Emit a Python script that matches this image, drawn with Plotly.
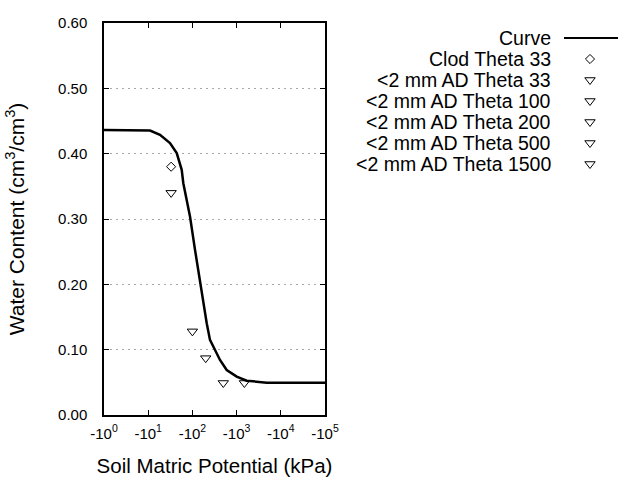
import plotly.graph_objects as go

# ---- data ----
curve_kpa = [1, 11.0, 18.5, 31.1, 44.2, 57.3, 62.3, 73.0, 88.3, 114.6, 148.6,
             210.8, 250, 324.6, 421, 597, 1005, 1693, 4800, 100000]
curve_theta = [0.4364, 0.4354, 0.4288, 0.4161, 0.4008, 0.3752, 0.3548, 0.3293,
               0.3037, 0.2527, 0.2017, 0.1404, 0.1149, 0.0995, 0.0842, 0.0689,
               0.0587, 0.0525, 0.0495, 0.0495]

clod_kpa = [33]
clod_theta = [0.38]

ad_kpa = [33, 100, 200, 500, 1500]
ad_theta = [0.34, 0.128, 0.087, 0.049, 0.049]

legend_names = ["Curve", "Clod Theta 33", "&lt;2 mm AD Theta 33",
                "&lt;2 mm AD Theta 100", "&lt;2 mm AD Theta 200",
                "&lt;2 mm AD Theta 500", "&lt;2 mm AD Theta 1500"]

x_tickvals = [1, 10, 100, 1000, 10000, 100000]
x_ticktext = ["-10<sup>0</sup>", "-10<sup>1</sup>", "-10<sup>2</sup>",
              "-10<sup>3</sup>", "-10<sup>4</sup>", "-10<sup>5</sup>"]
y_tickvals = [0.0, 0.1, 0.2, 0.3, 0.4, 0.5, 0.6]
y_ticktext = ["0.00", "0.10", "0.20", "0.30", "0.40", "0.50", "0.60"]

FONT = "Arial, Liberation Sans, sans-serif"

fig = go.Figure()

fig.add_trace(go.Scatter(x=curve_kpa, y=curve_theta, mode="lines",
                         line=dict(color="black", width=2.5),
                         showlegend=False, hoverinfo="skip"))
fig.add_trace(go.Scatter(x=clod_kpa, y=clod_theta, mode="markers",
                         marker=dict(symbol="diamond-open", size=7, color="black",
                                     line=dict(width=1, color="black")),
                         showlegend=False))
fig.add_trace(go.Scatter(x=ad_kpa, y=ad_theta, mode="markers",
                         marker=dict(symbol="triangle-down-open", size=9, color="black",
                                     line=dict(width=1, color="black")),
                         showlegend=False))

# ---- custom legend (text right-aligned, key to the right) ----
rows = list(range(len(legend_names)))
fig.add_trace(go.Scatter(x=[564, 618], y=[0, 0], mode="lines", xaxis="x2", yaxis="y2",
                         line=dict(color="black", width=2), showlegend=False, hoverinfo="skip"))
fig.add_trace(go.Scatter(x=[590], y=[1], mode="markers", xaxis="x2", yaxis="y2",
                         marker=dict(symbol="diamond-open", size=7, color="black",
                                     line=dict(width=1, color="black")),
                         showlegend=False, hoverinfo="skip"))
fig.add_trace(go.Scatter(x=[590] * 5, y=rows[2:], mode="markers", xaxis="x2", yaxis="y2",
                         marker=dict(symbol="triangle-down-open", size=9, color="black",
                                     line=dict(width=1, color="black")),
                         showlegend=False, hoverinfo="skip"))
for r, name in zip(rows, legend_names):
    fig.add_annotation(x=553, y=r, xref="x2", yref="y2", text=name, showarrow=False,
                       xanchor="right", yanchor="middle",
                       font=dict(family=FONT, size=19.5, color="black"))

L, T, B = 104, 23, 65
W, H = 640, 480
pw = W - L
ph = H - T - B

fig.update_layout(
    template="none",
    width=W, height=H,
    margin=dict(l=L, r=0, t=T, b=B, pad=0, autoexpand=False),
    paper_bgcolor="white", plot_bgcolor="white",
    font=dict(family=FONT, color="black"),
    xaxis=dict(type="log", range=[0, 5], domain=[0, (325 - L) / pw], automargin=False,
               tickvals=x_tickvals, ticktext=x_ticktext,
               tickfont=dict(size=15, family=FONT, color="black"), ticklabelstandoff=4,
               ticks="inside", ticklen=5, tickcolor="black", tickwidth=1, mirror="allticks",
               showline=True, linecolor="black", linewidth=1.5, showgrid=False,
               zeroline=False,
               title=dict(text="Soil Matric Potential (kPa)",
                          font=dict(size=20.5, family=FONT, color="black"), standoff=18)),
    yaxis=dict(range=[0, 0.6], domain=[0, 1], automargin=False,
               tickvals=y_tickvals, ticktext=y_ticktext,
               tickfont=dict(size=15, family=FONT, color="black"), ticklabelstandoff=12,
               ticks="inside", ticklen=5, tickcolor="black", tickwidth=1, mirror="allticks",
               showline=True, linecolor="black", linewidth=1.5,
               showgrid=True, gridcolor="#a8a8a8", gridwidth=1, griddash="2px,4px",
               zeroline=False,
               title=dict(text="Water Content (cm<sup>3</sup>/cm<sup>3</sup>)",
                          font=dict(size=21, family=FONT, color="black"), standoff=28)),
    xaxis2=dict(domain=[(550 - L) / pw, (630 - L) / pw], range=[550, 630], visible=False,
                anchor="y2"),
    yaxis2=dict(domain=[(H - B - 174.5) / ph, (H - B - 27.5) / ph], range=[6.5, -0.5],
                visible=False, anchor="x2"),
)

fig.write_html("out.html")
